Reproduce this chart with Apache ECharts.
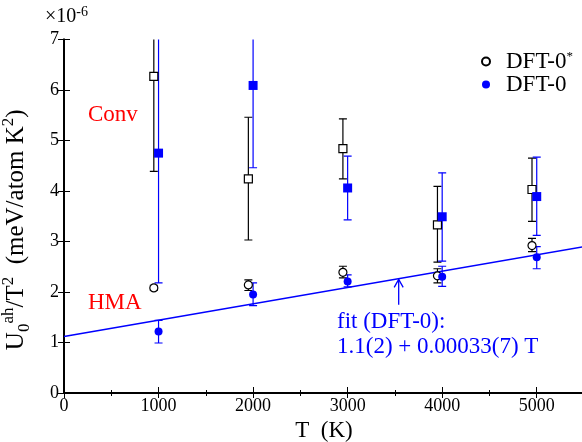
<!DOCTYPE html>
<html><head><meta charset="utf-8">
<script src="https://cdn.jsdelivr.net/npm/echarts@6/dist/echarts.min.js"></script>
<style>html,body{margin:0;padding:0;background:#fff}#c{width:582px;height:442px}</style>
</head><body><div id="c"></div>
<script>
// ---- data ----
const tStar = [950, 1950, 2950, 3950, 4950];      // DFT-0* temperatures (plotted slightly left)
const tDft = [1000, 2000, 3000, 4000, 5000];      // DFT-0 temperatures
const convStar = [6.27, 4.24, 4.84, 3.33, 4.03];
const convStarLo = [4.39, 3.03, 4.24, 2.59, 3.40];
const convStarHi = [8.15, 5.46, 5.43, 4.09, 4.65];
const convDft = [4.75, 6.09, 4.06, 3.49, 3.89];
const convDftLo = [2.18, 4.46, 3.43, 2.61, 3.12];
const convDftHi = [7.32, 7.72, 4.69, 4.36, 4.67];
const hmaStar = [2.08, 2.14, 2.39, 2.32, 2.92];
const hmaStarLo = [2.03, 2.03, 2.28, 2.18, 2.80];
const hmaStarHi = [2.13, 2.24, 2.51, 2.46, 3.06];
const hmaDft = [1.22, 1.95, 2.21, 2.30, 2.69];
const hmaDftLo = [0.99, 1.73, 2.10, 2.11, 2.46];
const hmaDftHi = [1.44, 2.18, 2.34, 2.51, 2.90];
const fitT = [0, 5500];
const fitY = [1.12, 2.90];
const arrowT = [3540];
const arrowFrom = [1.75];
const arrowTo = [2.25];
const xTicks = [0, 1000, 2000, 3000, 4000, 5000];
const yTicks = [0, 1, 2, 3, 4, 5, 6, 7];

const FONT = "'Liberation Serif', 'Times New Roman', Times, serif";
const BLUE = '#0000ff', BLACK = '#000000', RED = '#ff0000';

function pairs(xs, ys) { return xs.map((x, i) => [x, ys[i]]); }
function triples(xs, lo, hi) { return xs.map((x, i) => [x, lo[i], hi[i]]); }

function errSeries(name, xs, lo, hi, color) {
  return {
    name: name, type: 'custom', clip: true, z: 3,
    data: triples(xs, lo, hi),
    renderItem: function (params, api) {
      const x = api.value(0), l = api.value(1), h = api.value(2);
      const a = api.coord([x, l]), b = api.coord([x, h]);
      const hw = 4;
      const st = { stroke: color, lineWidth: 1.2 };
      return { type: 'group', children: [
        { type: 'line', shape: { x1: a[0], y1: a[1], x2: b[0], y2: b[1] }, style: st },
        { type: 'line', shape: { x1: a[0] - hw, y1: a[1], x2: a[0] + hw, y2: a[1] }, style: st },
        { type: 'line', shape: { x1: b[0] - hw, y1: b[1], x2: b[0] + hw, y2: b[1] }, style: st }
      ]};
    }
  };
}
function markSeries(name, xs, ys, symbol, size, filled, color) {
  return {
    name: name, type: 'scatter', symbol: symbol, symbolSize: size, z: 5,
    data: pairs(xs, ys),
    itemStyle: filled ? { color: color, opacity: 1 } : { color: '#ffffff', borderColor: color, borderWidth: 1.2, opacity: 1 },
    emphasis: { disabled: true }
  };
}

const chart = echarts.init(document.getElementById('c'), null, { renderer: 'canvas' });
const axisLine = { show: true, lineStyle: { color: BLACK, width: 2 } };
const labelStyle = { color: BLACK, fontFamily: FONT, fontSize: 18 };

chart.setOption({
  animation: false,
  backgroundColor: '#ffffff',
  grid: { left: 64, right: -2, top: 39.5, bottom: 49, containLabel: false, outerBoundsMode: 'none' },
  xAxis: [
    { type: 'value', min: 0, max: 5500, interval: 1000, position: 'bottom',
      name: 'T  (K)', nameLocation: 'middle', nameGap: 21,
      nameTextStyle: { color: BLACK, fontFamily: FONT, fontSize: 23 },
      axisLine: axisLine,
      axisTick: { show: true, inside: true, length: 6, lineStyle: { color: BLACK, width: 1 } },
      minorTick: { show: true, splitNumber: 2, length: 3, lineStyle: { color: BLACK, width: 1 } },
      axisLabel: Object.assign({ margin: 4, showMaxLabel: false,
        formatter: v => xTicks.indexOf(v) >= 0 ? String(v) : '' }, labelStyle),
      splitLine: { show: false } },
    { type: 'value', min: 0, max: 5500, interval: 1000, position: 'top',
      axisLine: axisLine,
      axisTick: { show: true, inside: true, length: 5, lineStyle: { color: BLACK, width: 1 } },
      minorTick: { show: true, splitNumber: 2, length: 3, lineStyle: { color: BLACK, width: 1 } },
      axisLabel: { show: false }, splitLine: { show: false } }
  ],
  yAxis: [
    { type: 'value', min: 0, max: 7, interval: 1, position: 'left',
      name: 'U{sub|0}{sup|ah}/T{sup|2}  (meV/atom K{sup|2})',
      nameLocation: 'middle', nameGap: 31, nameRotate: 90,
      nameTextStyle: { color: BLACK, fontFamily: FONT, fontSize: 25, padding: [0, 27, 0, 0],
        rich: {
          sub: { fontFamily: FONT, fontSize: 17, color: BLACK, verticalAlign: 'bottom', lineHeight: 33 },
          sup: { fontFamily: FONT, fontSize: 17, color: BLACK, verticalAlign: 'top', lineHeight: 33 }
        } },
      axisLine: axisLine,
      axisTick: { show: true, inside: true, length: 6, lineStyle: { color: BLACK, width: 1 } },
      axisLabel: Object.assign({ margin: 5, formatter: v => yTicks.indexOf(v) >= 0 ? String(v) : '' }, labelStyle),
      splitLine: { show: false } },
    { type: 'value', min: 0, max: 7, interval: 1, position: 'right',
      axisLine: axisLine,
      axisTick: { show: true, inside: true, length: 6, lineStyle: { color: BLACK, width: 1 } },
      axisLabel: { show: false }, splitLine: { show: false } }
  ],
  legend: {
    show: true, orient: 'vertical', left: 481, top: 50, padding: 0, itemGap: 0,
    itemWidth: 8, itemHeight: 8, selectedMode: false,
    data: [{ name: 'DFT-0*', icon: 'circle' }, { name: 'DFT-0', icon: 'circle' }],
    formatter: n => n === 'DFT-0*' ? 'DFT-0{sup|*}' : n,
    textStyle: { color: BLACK, fontFamily: FONT, fontSize: 23, lineHeight: 23, padding: [0, 0, 0, 11],
      rich: { sup: { fontFamily: FONT, fontSize: 13, color: BLACK, verticalAlign: 'top', lineHeight: 23 } } }
  },
  graphic: [
    { type: 'text', x: 45, y: 29, style: { text: '×10{sup|-6}', fontFamily: FONT, fontSize: 20, fill: BLACK,
        verticalAlign: 'bottom', rich: { sup: { fontFamily: FONT, fontSize: 14, fill: BLACK, verticalAlign: 'top', lineHeight: 24 } } } },
    { type: 'text', x: 88, y: 115, style: { text: 'Conv', fontFamily: FONT, fontSize: 23, fill: RED, verticalAlign: 'middle' } },
    { type: 'text', x: 88, y: 303, style: { text: 'HMA', fontFamily: FONT, fontSize: 23, fill: RED, verticalAlign: 'middle' } },
    { type: 'text', x: 337, y: 322, style: { text: 'fit (DFT-0):', fontFamily: FONT, fontSize: 23, fill: BLUE, verticalAlign: 'middle' } },
    { type: 'text', x: 337, y: 347, style: { text: '1.1(2) + 0.00033(7) T', fontFamily: FONT, fontSize: 23, fill: BLUE, verticalAlign: 'middle' } }
  ],
  series: [
    { name: 'fit', type: 'line', data: pairs(fitT, fitY), showSymbol: false, symbol: 'none', z: 2,
      lineStyle: { color: BLUE, width: 1.5 }, emphasis: { disabled: true } },
    { name: 'arrow', type: 'custom', z: 2, data: triples(arrowT, arrowFrom, arrowTo),
      renderItem: function (params, api) {
        const a = api.coord([api.value(0), api.value(1)]), b = api.coord([api.value(0), api.value(2)]);
        const st = { stroke: BLUE, lineWidth: 1.3, fill: null };
        return { type: 'group', children: [
          { type: 'line', shape: { x1: a[0], y1: a[1], x2: b[0], y2: b[1] }, style: st },
          { type: 'polyline', shape: { points: [[b[0] - 4.5, b[1] + 8], [b[0], b[1]], [b[0] + 4.5, b[1] + 8]] }, style: st }
        ]};
      } },
    errSeries('errConvStar', tStar, convStarLo, convStarHi, BLACK),
    errSeries('errConvDft', tDft, convDftLo, convDftHi, BLUE),
    errSeries('errHmaStar', tStar, hmaStarLo, hmaStarHi, BLACK),
    errSeries('errHmaDft', tDft, hmaDftLo, hmaDftHi, BLUE),
    markSeries('Conv DFT-0*', tStar, convStar, 'rect', 8, false, BLACK),
    markSeries('Conv DFT-0', tDft, convDft, 'rect', 9, true, BLUE),
    markSeries('DFT-0*', tStar, hmaStar, 'circle', 8, false, BLACK),
    markSeries('DFT-0', tDft, hmaDft, 'circle', 8, true, BLUE)
  ]
});
</script>
</body></html>
